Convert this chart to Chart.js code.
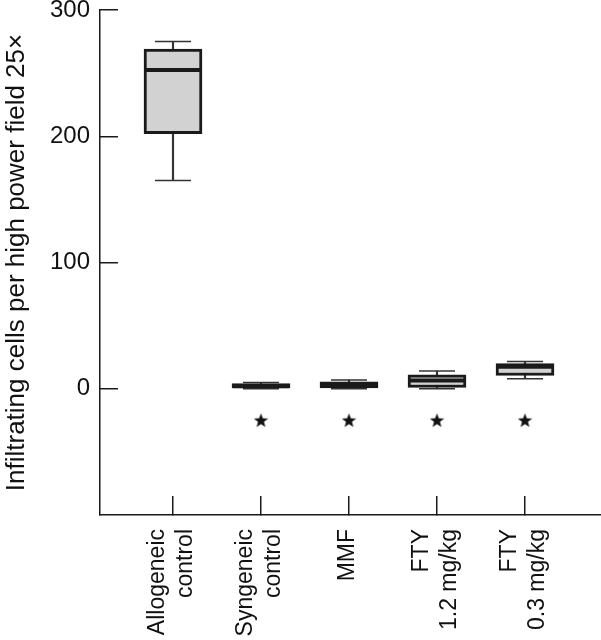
<!DOCTYPE html>
<html>
<head>
<meta charset="utf-8">
<script src="https://cdn.jsdelivr.net/npm/chart.js@4/dist/chart.umd.min.js"></script>
<style>
  html, body { margin: 0; padding: 0; background: #ffffff; }
  #wrap { width: 601px; height: 640px; }
</style>
</head>
<body>
<div id="wrap"><canvas id="c" width="601" height="640"></canvas></div>
<script>
// ---- data ----
const categories = [['Allogeneic', 'control'], ['Syngeneic', 'control'], ['MMF'], ['FTY', '1.2 mg/kg'], ['FTY', '0.3 mg/kg']];
const whiskerLow  = [165, 0, 0, 0, 8];
const q1          = [202, 0, 0, 1, 10.5];
const median      = [252.5, 2, 2.5, 6.5, 17.5];
const q3          = [269, 4, 5.5, 11, 20];
const whiskerHigh = [275, 5, 7, 14, 21.5];
const significant = [false, true, true, true, true];
const starLevel = -25;
const yTicks = [0, 100, 200, 300];
const yTitle = 'Infiltrating cells per high power field 25\u00d7';

// ---- star marker ----
function makeStar(size) {
  const cv = document.createElement('canvas');
  cv.width = size; cv.height = size;
  const g = cv.getContext('2d');
  const cx = size / 2, cy = size / 2 + 0.6, R = size / 2, r = R * 0.42;
  g.beginPath();
  for (let i = 0; i < 10; i++) {
    const a = -Math.PI / 2 + i * Math.PI / 5;
    const rad = i % 2 === 0 ? R : r;
    const px = cx + rad * Math.cos(a), py = cy + rad * Math.sin(a);
    if (i === 0) g.moveTo(px, py); else g.lineTo(px, py);
  }
  g.closePath();
  g.fillStyle = '#111';
  g.fill();
  return cv;
}
const starImg = makeStar(15);

const idx = categories.map((_, i) => i);
const ink = '#1a1a1a';

const datasets = [
  {
    type: 'bar', label: 'whisker', order: 3, grouped: false,
    data: idx.map(i => ({ x: i, y: [whiskerLow[i], whiskerHigh[i]] })),
    backgroundColor: '#333', borderWidth: 0, barThickness: 1.5
  },
  {
    type: 'bar', label: 'box', order: 2, grouped: false,
    data: idx.map(i => ({ x: i, y: [q1[i], q3[i]] })),
    backgroundColor: '#d2d2d2', borderColor: ink, borderWidth: 3,
    borderSkipped: false, barThickness: 58
  },
  {
    type: 'line', label: 'caps', order: 1, showLine: false,
    data: idx.flatMap(i => [{ x: i, y: whiskerLow[i] }, { x: i, y: whiskerHigh[i] }]),
    pointStyle: 'line', pointRadius: 18, pointBorderWidth: 1.5, borderColor: '#333', pointBorderColor: '#333'
  },
  {
    type: 'line', label: 'median', order: 0, showLine: false,
    data: idx.map(i => ({ x: i, y: median[i] })),
    pointStyle: 'line', pointRadius: 28, pointBorderWidth: 4, borderColor: ink, pointBorderColor: ink
  },
  {
    type: 'line', label: 'stars', order: 0, showLine: false,
    data: idx.filter(i => significant[i]).map(i => ({ x: i, y: starLevel })),
    pointStyle: starImg, pointRadius: 8
  }
];

const pxPerCat = 88, firstCenter = 173, areaLeft = 100, areaRight = 601;
const labelFamily = '"Liberation Sans", Arial, sans-serif';

new Chart(document.getElementById('c'), {
  type: 'bar',
  data: { datasets },
  options: {
    responsive: false,
    animation: false,
    events: [],
    layout: { autoPadding: false, padding: { top: 10, left: 0, right: 0, bottom: 0 } },
    plugins: { legend: { display: false }, tooltip: { enabled: false } },
    scales: {
      x: {
        type: 'linear',
        offset: false,
        min: (areaLeft - firstCenter) / pxPerCat,
        max: (areaRight - firstCenter) / pxPerCat,
        afterBuildTicks: s => { s.ticks = idx.map(v => ({ value: v })); },
        afterFit: s => { s.height = 125; s.paddingLeft = 0; s.paddingRight = 0; },
        border: { display: true, color: ink, width: 1.5 },
        grid: { display: true, offset: false, drawOnChartArea: false, drawTicks: true, tickLength: -19, color: ink, lineWidth: 1.5 },
        ticks: {
          autoSkip: false, minRotation: 90, maxRotation: 90,
          padding: 33, labelOffset: -15, color: '#111',
          font: ctx => ({ family: labelFamily, size: 23, lineHeight: categories[ctx.index] && categories[ctx.index].length === 1 ? 0.6 : 1.2 }),
          callback: v => categories[v].length === 1 ? ['', categories[v][0]] : categories[v]
        }
      },
      y: {
        type: 'linear',
        min: -100, max: 300,
        afterBuildTicks: s => { s.ticks = yTicks.map(v => ({ value: v })); },
        afterFit: s => { s.width = 100; s.paddingTop = 0; s.paddingBottom = 0; },
        border: { display: true, color: ink, width: 1.5 },
        grid: { display: true, drawOnChartArea: false, drawTicks: true, tickLength: -18, color: ink, lineWidth: 1.5 },
        ticks: {
          padding: 28, color: '#111',
          font: { family: labelFamily, size: 24, lineHeight: 1 }
        },
        title: {
          display: true, text: yTitle, color: '#111',
          padding: { top: 1, bottom: 0 },
          font: { family: labelFamily, size: 26, lineHeight: 1.2 }
        }
      }
    }
  }
});
</script>
</body>
</html>
